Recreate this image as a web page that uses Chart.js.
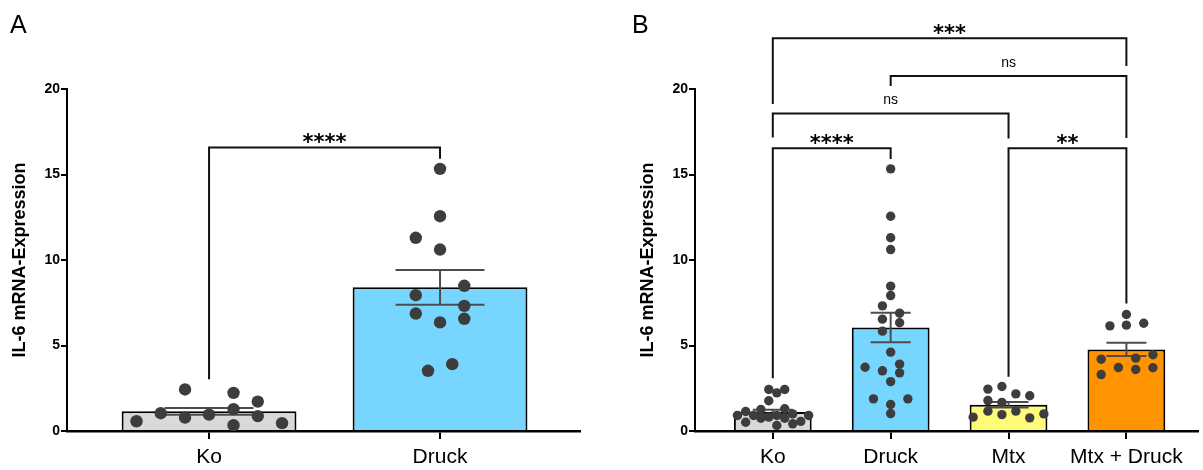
<!DOCTYPE html>
<html>
<head>
<meta charset="utf-8">
<script src="https://cdn.jsdelivr.net/npm/chart.js@4.4.1/dist/chart.umd.min.js"></script>
<style>
  body { margin: 0; background: #fff; width: 1203px; height: 470px; overflow: hidden; position: relative; font-family: "Liberation Sans", Arial, sans-serif; }
  .panel { position: absolute; top: 0; }
  .letter { position: absolute; top: 12px; font-size: 25px; line-height: 25px; color: #000; }
</style>
</head>
<body>
<div class="panel" style="left:0"><canvas id="chartA" width="600" height="470"></canvas></div>
<div class="panel" style="left:600px"><canvas id="chartB" width="603" height="470"></canvas></div>
<div class="letter" style="left:10px">A</div>
<div class="letter" style="left:632px">B</div>
<script>
// ---- panel A data ----
const catsA = ['Ko', 'Druck'];
const meansA = [1.15, 8.4];
const semsA = [0.2, 1.02];
const colorsA = ['#d9d9d9', '#76d6ff'];
const pointsA = [
    [0.57, 1.04, 2.43, 0.79, 0.96, 2.23, 1.28, 0.34, 1.72, 0.87, 0.46],
    [15.33, 12.56, 11.30, 10.61, 8.49, 7.94, 7.32, 6.87, 6.56, 6.35, 3.91, 3.52]
];
// horizontal jitter of each dot, in category units
const jitterA = [
    [-0.314, -0.209, -0.104, -0.104, 0, 0.106, 0.106, 0.106, 0.211, 0.211, 0.316],
    [0, 0, -0.105, 0, 0.105, -0.105, 0.105, -0.105, 0.105, 0, 0.053, -0.052]
];
// [from, to, top, end at from, end at to, label]
const bracketsA = [
    [0, 1, 16.58, 3.03, 15.92, '****']
];

// ---- panel B data ----
const catsB = ['Ko', 'Druck', 'Mtx', 'Mtx + Druck'];
const meansB = [1.11, 6.05, 1.53, 4.77];
const semsB = [0.14, 0.86, 0.16, 0.39];
const colorsB = ['#d9d9d9', '#76d6ff', '#fffb7a', '#ff9300'];
const pointsB = [
    [2.43, 2.23, 2.43, 1.77, 0.91, 1.14, 0.51, 0.91, 1.26, 0.75, 0.81, 0.91, 0.32, 1.30, 0.75, 1.00, 0.42, 0.56, 0.91],
    [15.33, 12.56, 11.30, 10.61, 8.47, 7.92, 7.32, 6.89, 6.54, 6.33, 5.84, 4.61, 3.73, 3.91, 3.52, 3.40, 2.89, 1.88, 1.88, 1.55, 1.02],
    [2.45, 2.60, 2.17, 2.06, 1.78, 1.67, 0.81, 1.16, 0.96, 1.16, 0.77, 1.00],
    [6.81, 6.15, 6.19, 6.30, 4.20, 4.26, 4.46, 3.71, 3.60, 3.70, 3.30]
];
const jitterB = [
    [-0.034, 0.034, 0.101, -0.034, -0.30, -0.23, -0.23, -0.163, -0.101, -0.101, -0.034, 0.034, 0.034, 0.101, 0.101, 0.169, 0.169, 0.237, 0.304],
    [0, 0, 0, 0, 0, 0, -0.07, 0.076, -0.07, 0.076, -0.07, 0, -0.217, 0.076, -0.07, 0.076, 0, -0.146, 0.146, 0, 0],
    [-0.175, -0.056, 0.062, 0.18, -0.175, -0.056, -0.30, -0.175, -0.056, 0.062, 0.18, 0.30],
    [0, -0.14, 0, 0.147, -0.214, 0.079, 0.225, -0.068, 0.079, 0.225, -0.214]
];
const bracketsB = [
    [0, 3, 22.97, 19.13, 21.34, '***'],
    [1, 3, 20.76, 20.17, 17.14, 'ns'],
    [0, 2, 18.56, 17.16, 17.10, 'ns'],
    [0, 1, 16.54, 3.09, 15.90, '****'],
    [2, 3, 16.54, 3.17, 7.45, '**']
];

Chart.defaults.font.family = "'Liberation Sans', Arial, sans-serif";
Chart.defaults.color = '#000';

function overlayPlugin(means, sems, capW, brackets) {
    return {
        id: 'overlay',
        afterDatasetDraw(chart, args) {
            if (args.meta.type !== 'bar') return;
            const { ctx } = chart;
            const x = chart.scales.x;
            const y = chart.scales.y;
            ctx.save();
            ctx.strokeStyle = '#4d4d4d';
            ctx.lineWidth = 2;
            means.forEach((m, i) => {
                const cx = x.getPixelForValue(i);
                const hw = x.getPixelForValue(i + capW / 2) - cx;
                const top = y.getPixelForValue(m + sems[i]);
                const bot = y.getPixelForValue(m - sems[i]);
                ctx.beginPath();
                ctx.moveTo(cx, top); ctx.lineTo(cx, bot);
                ctx.moveTo(cx - hw, top); ctx.lineTo(cx + hw, top);
                ctx.moveTo(cx - hw, bot); ctx.lineTo(cx + hw, bot);
                ctx.stroke();
            });
            ctx.restore();
        },
        afterDraw(chart) {
            const { ctx } = chart;
            const x = chart.scales.x;
            const y = chart.scales.y;
            ctx.save();
            ctx.strokeStyle = '#111';
            ctx.lineWidth = 2;
            ctx.fillStyle = '#000';
            ctx.textAlign = 'center';
            ctx.textBaseline = 'alphabetic';
            for (const [a, b, top, endA, endB, label] of brackets) {
                const xa = x.getPixelForValue(a);
                const xb = x.getPixelForValue(b);
                const yt = y.getPixelForValue(top);
                ctx.beginPath();
                ctx.moveTo(xa, y.getPixelForValue(endA));
                ctx.lineTo(xa, yt);
                ctx.lineTo(xb, yt);
                ctx.lineTo(xb, y.getPixelForValue(endB));
                ctx.stroke();
                if (label === 'ns') {
                    ctx.font = "14px 'Liberation Sans', Arial, sans-serif";
                    ctx.fillText(label, (xa + xb) / 2, yt - 9.5);
                } else {
                    ctx.font = "bold 21px 'DejaVu Sans', sans-serif";
                    ctx.fillText(label, (xa + xb) / 2, yt + 2);
                }
            }
            ctx.restore();
        }
    };
}

function makePanel(canvas, cfg) {
    const scatter = [];
    cfg.points.forEach((vals, i) => {
        vals.forEach((v, j) => scatter.push({ x: i + cfg.jitter[i][j], y: v }));
    });
    return new Chart(canvas, {
        type: 'bar',
        data: {
            datasets: [
                {
                    type: 'scatter',
                    data: scatter,
                    pointRadius: cfg.dotRadius,
                    pointBackgroundColor: '#3d3d3d',
                    pointBorderWidth: 0,
                    order: 1
                },
                {
                    type: 'bar',
                    data: cfg.means.map((m, i) => ({ x: i, y: m })),
                    backgroundColor: cfg.colors,
                    borderColor: '#000',
                    borderWidth: 2,
                    barPercentage: cfg.barPct,
                    categoryPercentage: 1,
                    order: 2
                }
            ]
        },
        options: {
            responsive: false,
            devicePixelRatio: 1,
            animation: false,
            events: [],
            layout: { padding: { top: 89, left: 0, right: cfg.padRight, bottom: 0 } },
            plugins: { legend: { display: false }, tooltip: { enabled: false } },
            scales: {
                x: {
                    type: 'linear',
                    bounds: 'data',
                    offset: false,
                    min: cfg.xMin,
                    max: cfg.xMax,
                    afterBuildTicks(s) {
                        s.ticks = cfg.cats.map((c, i) => ({ value: i }));
                    },
                    afterFit(s) { s.height = 39; },
                    ticks: {
                        callback: (v) => cfg.cats[v],
                        font: { size: 21 },
                        color: '#000',
                        padding: 6,
                        maxRotation: 0,
                        autoSkip: false
                    },
                    grid: { offset: false, drawOnChartArea: false, tickLength: 8, color: '#000', lineWidth: 2 },
                    border: { color: '#000', width: 2.5 }
                },
                y: {
                    min: 0,
                    max: 20,
                    afterFit(s) { s.width = cfg.yWidth; },
                    ticks: {
                        stepSize: 5,
                        font: { size: 14, weight: 'bold' },
                        color: '#000',
                        padding: 1
                    },
                    grid: { drawOnChartArea: false, tickLength: 6, color: '#000', lineWidth: 2 },
                    border: { color: '#000', width: 2 },
                    title: {
                        display: true,
                        text: 'IL-6 mRNA-Expression',
                        color: '#000',
                        font: { size: 18, weight: 'bold' },
                        padding: { top: cfg.titlePad, bottom: 0 }
                    }
                }
            }
        },
        plugins: [overlayPlugin(cfg.means, cfg.sems, cfg.capW, cfg.brackets)]
    });
}

makePanel(document.getElementById('chartA'), {
    cats: catsA, means: meansA, sems: semsA, colors: colorsA,
    points: pointsA, jitter: jitterA, brackets: bracketsA,
    xMin: -0.615, xMax: 1.606, padRight: 20, yWidth: 67, titlePad: 9,
    barPct: 0.757, capW: 0.385, dotRadius: 6.2
});

makePanel(document.getElementById('chartB'), {
    cats: catsB, means: meansB, sems: semsB, colors: colorsB,
    points: pointsB, jitter: jitterB, brackets: bracketsB,
    xMin: -0.66, xMax: 3.61, padRight: 3, yWidth: 95, titlePad: 37,
    barPct: 0.66, capW: 0.34, dotRadius: 4.7
});
</script>
</body>
</html>
